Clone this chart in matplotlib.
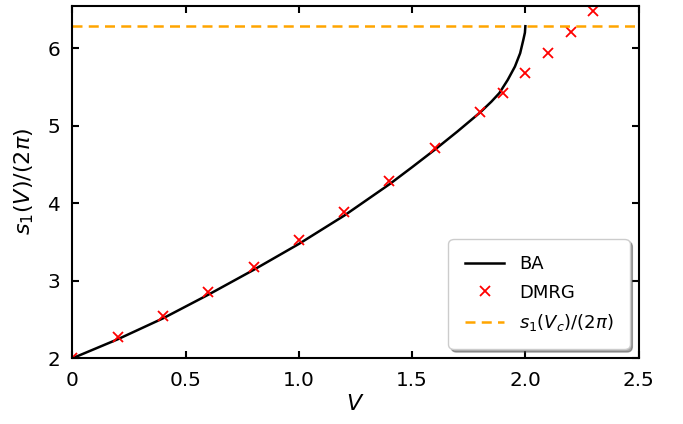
import matplotlib
matplotlib.use("Agg")
import matplotlib.pyplot as plt
import numpy as np

# BA curve
v_ba = [0, 0.2, 0.4, 0.6, 0.8, 1.0, 1.2, 1.4, 1.5, 1.6, 1.7, 1.8, 1.85,
        1.885, 1.922, 1.954, 1.977, 1.991, 1.998, 2.0]
s_ba = [2.0, 2.245, 2.515, 2.82, 3.14, 3.475, 3.84, 4.245, 4.465, 4.69,
        4.925, 5.17, 5.31, 5.42, 5.59, 5.763, 5.935, 6.107, 6.20, 6.283]

# DMRG points
v_dmrg = [0, 0.2, 0.4, 0.6, 0.8, 1.0, 1.2, 1.4, 1.6, 1.8, 1.9, 2.0, 2.1, 2.2, 2.3]
s_dmrg = [2.0, 2.27, 2.55, 2.855, 3.18, 3.52, 3.89, 4.29, 4.71, 5.18,
          5.42, 5.68, 5.94, 6.21, 6.48]

s_crit = 2 * np.pi

xticks = [0, 0.5, 1.0, 1.5, 2.0, 2.5]
xticklabels = ["0", "0.5", "1.0", "1.5", "2.0", "2.5"]
yticks = [2, 3, 4, 5, 6]

fig = plt.figure(figsize=(6.83, 4.24), dpi=100)
ax = fig.add_axes([0.106, 0.155, 0.829, 0.832])

ax.plot(v_ba, s_ba, "-", color="black", lw=1.8, label="BA")
ax.plot(v_dmrg, s_dmrg, "x", color="red", ms=7.5, mew=1.3, label="DMRG")
ax.axhline(s_crit, color="orange", ls="--", lw=1.8, dashes=(4, 2.5),
           label=r"$s_1(V_c)/(2\pi)$")

ax.set_xlim(0, 2.5)
ax.set_ylim(2, 6.55)
ax.set_xticks(xticks)
ax.set_xticklabels(xticklabels)
ax.set_yticks(yticks)
ax.tick_params(direction="in", top=True, right=True, length=5, width=1.5,
               labelsize=14.4, pad=9)
for sp in ax.spines.values():
    sp.set_linewidth(1.5)

ax.set_xlabel(r"$V$", fontsize=16, labelpad=3)
ax.set_ylabel(r"$s_1(V)/(2\pi)$", fontsize=16, labelpad=8)

leg = ax.legend(loc="lower right", fontsize=13, shadow=True, fancybox=True,
                borderpad=0.9, labelspacing=0.58, handlelength=2.2,
                handletextpad=0.8, borderaxespad=0.5, framealpha=1)
leg.get_frame().set_edgecolor("#cccccc")
leg.get_frame().set_boxstyle("round,pad=0.0,rounding_size=0.3")

fig.savefig("out.png", dpi=100)
